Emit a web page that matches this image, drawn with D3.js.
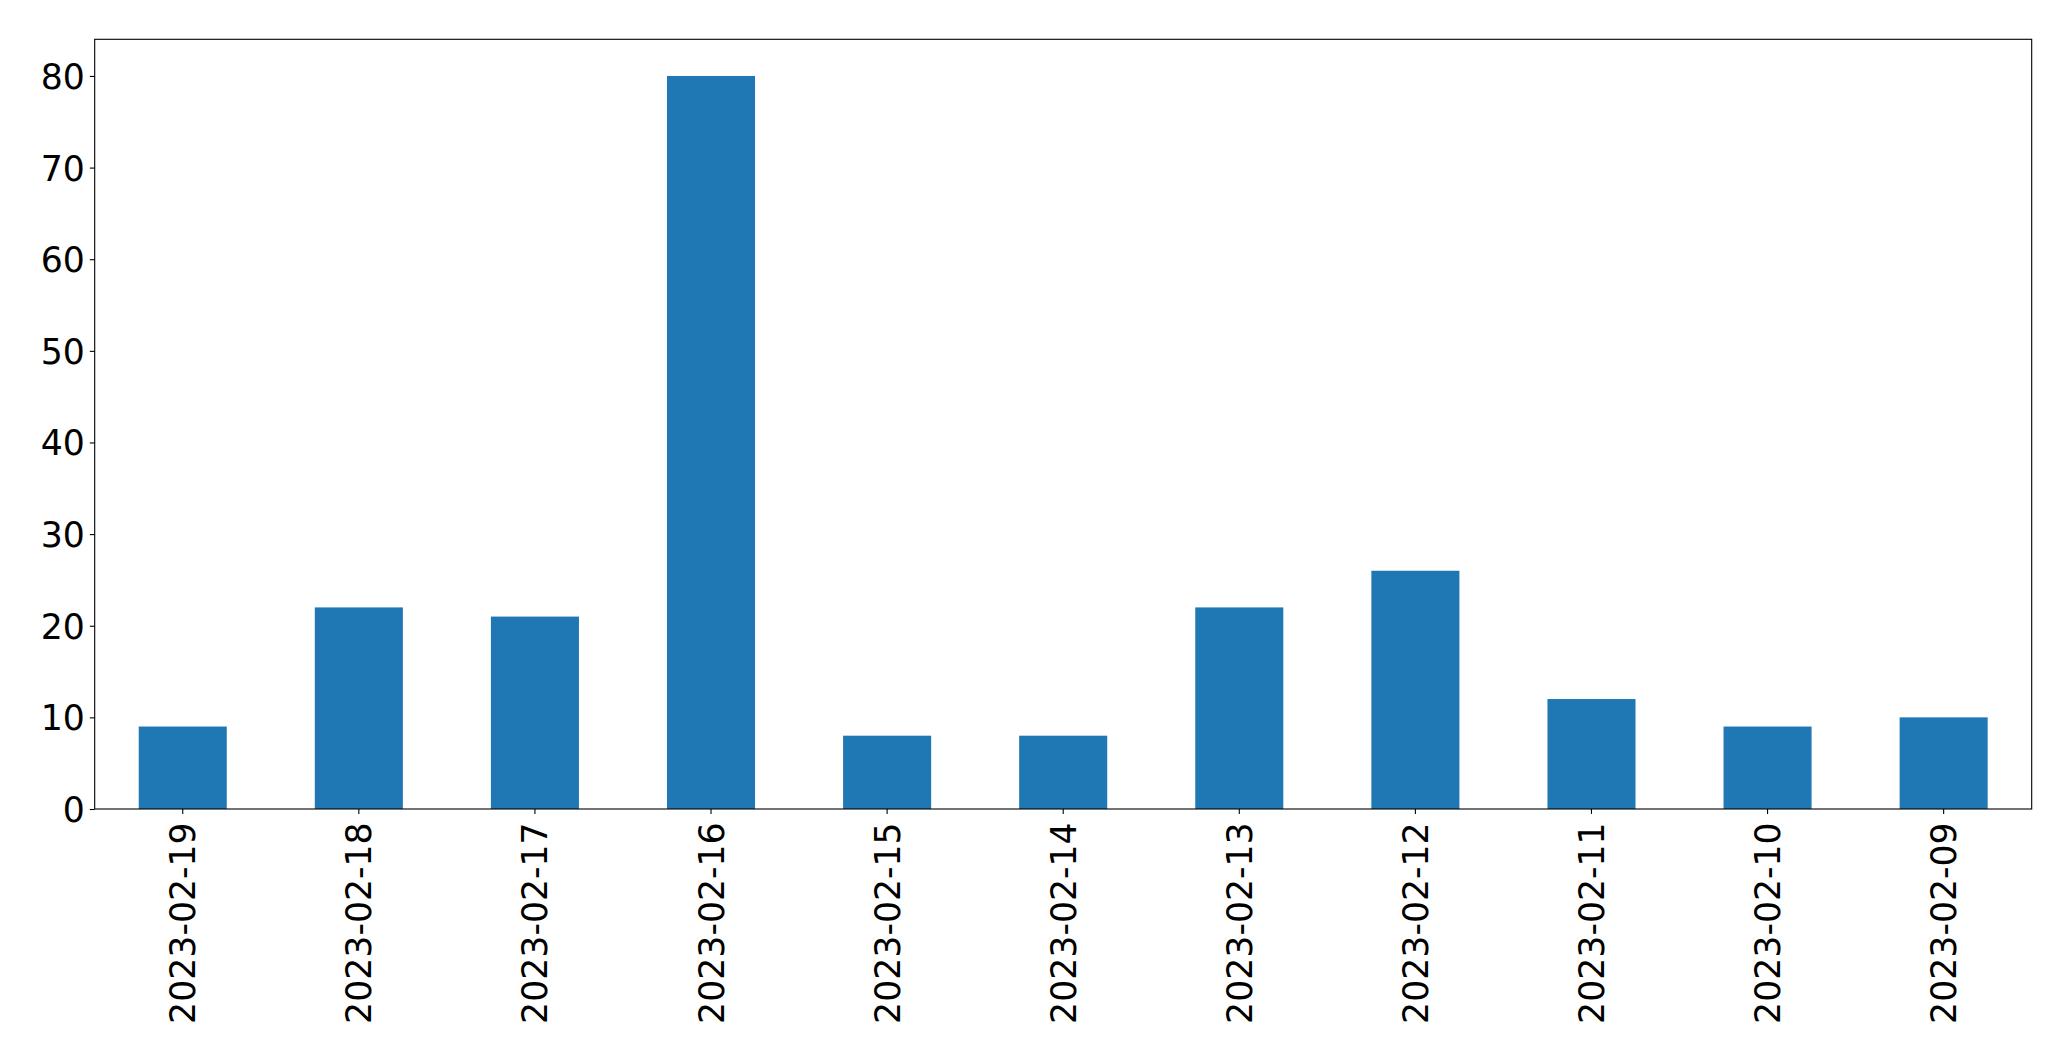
<!DOCTYPE html>
<html>
<head>
<meta charset="utf-8">
<script src="https://cdn.jsdelivr.net/npm/d3@7"></script>
<style>
  html, body { margin: 0; padding: 0; background: #fff; }
  svg { display: block; }
</style>
</head>
<body>
<svg id="chart" width="2071" height="1061"></svg>
<script>
const categories = ["2023-02-19","2023-02-18","2023-02-17","2023-02-16","2023-02-15","2023-02-14","2023-02-13","2023-02-12","2023-02-11","2023-02-10","2023-02-09"];
const values = [9, 22, 21, 80, 8, 8, 22, 26, 12, 9, 10];
const yTicks = [0, 10, 20, 30, 40, 50, 60, 70, 80];

const W = 2071, H = 1061;
const margin = { left: 94.7, right: W - 2031.7, top: 39.3, bottom: H - 809 };
const innerW = W - margin.left - margin.right;
const innerH = H - margin.top - margin.bottom;
const fontSize = 34.7;
const tickLen = 4.9, tickPad = 4.9;

const svg = d3.select("#chart");
const g = svg.append("g").attr("transform", `translate(${margin.left},${margin.top})`);

const x = d3.scaleBand().domain(categories).range([0, innerW]).paddingInner(0.5).paddingOuter(0.25);
const y = d3.scaleLinear().domain([0, 84]).range([innerH, 0]);

g.selectAll("rect.bar").data(values).join("rect")
  .attr("class", "bar")
  .attr("x", (d, i) => x(categories[i]))
  .attr("width", x.bandwidth())
  .attr("y", d => y(d))
  .attr("height", d => y(0) - y(d))
  .attr("fill", "#1f77b4");

// Y axis
const yAxis = d3.axisLeft(y).tickValues(yTicks).tickSize(tickLen).tickPadding(tickPad).tickFormat(d3.format("d"));
const ya = g.append("g").call(yAxis);
ya.select(".domain").remove();
ya.selectAll(".tick line").attr("stroke", "#000").attr("stroke-width", 1.1);
ya.selectAll(".tick text").attr("font-family", "DejaVu Sans").attr("font-size", fontSize).attr("fill", "#000").attr("dy", "0.36em");

// X axis
const xAxis = d3.axisBottom(x).tickSize(tickLen).tickPadding(tickPad);
const xa = g.append("g").attr("transform", `translate(0,${innerH})`).call(xAxis);
xa.select(".domain").remove();
xa.selectAll(".tick line").attr("stroke", "#000").attr("stroke-width", 1.1);
xa.selectAll(".tick text")
  .attr("font-family", "DejaVu Sans").attr("font-size", fontSize).attr("fill", "#000")
  .attr("text-anchor", "end")
  .attr("transform", `translate(0,${tickLen + tickPad + 3.5}) rotate(-90)`)
  .attr("x", 0).attr("y", 0).attr("dy", "0.36em");

// Frame
g.append("rect").attr("x", 0).attr("y", 0).attr("width", innerW).attr("height", innerH)
  .attr("fill", "none").attr("stroke", "#000").attr("stroke-width", 1.1);
</script>
</body>
</html>
